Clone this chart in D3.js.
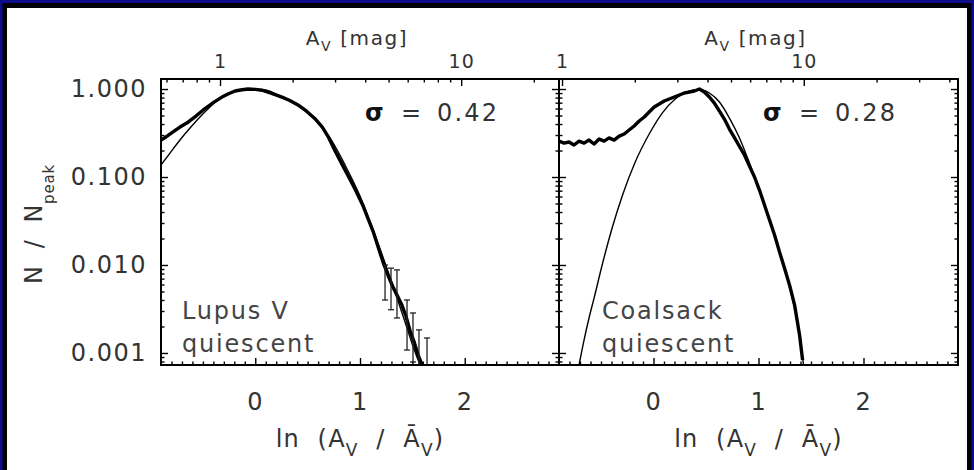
<!DOCTYPE html>
<html>
<head>
<meta charset="utf-8">
<script src="https://cdn.jsdelivr.net/npm/d3@7"></script>
<style>
  html, body { margin: 0; padding: 0; background: #0e0e8c; }
  svg { display: block; }
  text { font-family: 'DejaVu Sans', sans-serif; white-space: pre; }
</style>
</head>
<body>
<svg id="chart" width="974" height="470"></svg>
<script>
// ---- Lupus V (quiescent): column-density PDF, ln(A_V / mean A_V) vs N / N_peak
const lupusLnAv = [-0.900, -0.852, -0.785, -0.719, -0.642, -0.566, -0.480, -0.394, -0.318, -0.250,
  -0.193, -0.126, -0.069, 0.000, 0.064, 0.150, 0.255, 0.330, 0.408, 0.490, 0.570, 0.640, 0.694,
  0.760, 0.838, 0.900, 0.952, 1.029, 1.124, 1.170, 1.220, 1.270, 1.315, 1.360, 1.400, 1.440,
  1.477, 1.520, 1.554, 1.600];
const lupusCounts = [0.263, 0.285, 0.325, 0.370, 0.420, 0.493, 0.600, 0.710, 0.810, 0.889,
  0.950, 0.980, 1.000, 0.990, 0.970, 0.900, 0.810, 0.740, 0.660, 0.560, 0.460, 0.370, 0.290,
  0.200, 0.133, 0.096, 0.073, 0.047, 0.0243, 0.0164, 0.0108, 0.0075, 0.0056, 0.0044, 0.0035, 0.0026,
  0.0018, 0.0013, 0.00095, 0.00070];
// log-normal fit, sigma = 0.42
const lupusFitLnAv = [-0.900, -0.814, -0.719, -0.623, -0.528, -0.432, -0.337, -0.193, -0.050, 0.093,
  0.255, 0.427, 0.570, 0.714, 0.857, 1.000, 1.143, 1.286, 1.430, 1.525, 1.573];
const lupusFit = [0.137, 0.187, 0.263, 0.360, 0.481, 0.624, 0.790, 0.949, 1.000, 0.974,
  0.811, 0.624, 0.456, 0.278, 0.137, 0.0608, 0.0219, 0.0073, 0.00225, 0.00103, 0.00073];
// Poisson error bars in the high-extinction tail
const lupusErrLnAv = [1.239, 1.296, 1.353, 1.449, 1.506, 1.563, 1.640];
const lupusErrMid  = [0.0064, 0.0056, 0.0048, 0.0024, 0.00169, 0.00103, 0.00088];
const lupusErrLow  = [0.0040, 0.0031, 0.0025, 0.00108, 0.00079, 0.0007, 0.0007];
const lupusErrHigh = [0.0100, 0.0092, 0.0088, 0.0040, 0.00285, 0.00183, 0.00148];

// ---- Coalsack (quiescent)
const coalsackLnAv = [-0.900, -0.852, -0.805, -0.757, -0.709, -0.661, -0.614, -0.566, -0.518, -0.470,
  -0.423, -0.375, -0.327, -0.279, -0.232, -0.184, -0.136, -0.088, -0.041, 0.007, 0.055, 0.102,
  0.150, 0.198, 0.246, 0.293, 0.341, 0.389, 0.437, 0.484, 0.532, 0.580, 0.628, 0.675, 0.723,
  0.771, 0.819, 0.866, 0.914, 0.962, 1.009, 1.057, 1.105, 1.153, 1.200, 1.248, 1.296, 1.344,
  1.391, 1.420];
const coalsackCounts = [0.256, 0.243, 0.250, 0.231, 0.256, 0.243, 0.263, 0.237, 0.270, 0.256,
  0.278, 0.263, 0.292, 0.308, 0.342, 0.380, 0.433, 0.481, 0.548, 0.624, 0.675, 0.731,
  0.770, 0.811, 0.855, 0.901, 0.924, 0.949, 1.000, 0.924, 0.811, 0.693, 0.562, 0.456, 0.351,
  0.280, 0.222, 0.178, 0.133, 0.100, 0.0711, 0.0481, 0.0325, 0.0219, 0.0141, 0.0092, 0.0059, 0.0035,
  0.0016, 0.00083];
// log-normal fit, sigma = 0.28
const coalsackFitLnAv = [-0.709, -0.661, -0.614, -0.566, -0.489, -0.394, -0.298, -0.174, -0.041, 0.083,
  0.207, 0.341, 0.437, 0.532, 0.628, 0.723, 0.819, 0.914, 1.009, 1.105, 1.200, 1.296, 1.391, 1.429];
const coalsackFit = [0.00073, 0.00141, 0.0025, 0.0042, 0.0100, 0.0263, 0.0608, 0.148, 0.308, 0.533,
  0.770, 0.949, 0.987, 0.901, 0.711, 0.468, 0.278, 0.144, 0.0711, 0.0325, 0.0141, 0.0056, 0.0016, 0.00073];

// ---- axes
const yTickValues = [1, 0.1, 0.01, 0.001];
const xTickValues = [0, 1, 2];
const avTickValues = [1, 10];
const meanAv = [1.40, 2.39];           // mean A_V [mag] of each region (top axis)
const sigmaLabels = ["0.42", "0.28"];
const regionNames = [["Lupus V", "quiescent"], ["Coalsack", "quiescent"]];

const W = 974, H = 470;
const svg = d3.select("#chart");
const ink = "#000", textInk = "#333";

// framed white sheet on the blue slide
svg.append("rect").attr("x", 2.5).attr("y", 3).attr("width", 969).attr("height", H)
  .attr("fill", "#000");
svg.append("rect").attr("x", 7).attr("y", 8).attr("width", 960).attr("height", H)
  .attr("fill", "#fff");

const plotTop = 79, plotBottom = 365;
const panelX = [[161, 559], [559, 958]];
const nameOffset = [21, 43];
const yScale = d3.scaleLog().domain([0.00073, 1.30]).range([plotBottom, plotTop]);

const yMinor = [];
for (let k = -4; k <= 0; k++) for (let m = 2; m <= 9; m++) {
  const v = m * Math.pow(10, k);
  if (v > 0.00073 && v < 1.3) yMinor.push(v);
}
const xMinor = d3.range(-8, 29).map(i => i / 10).filter(v => Math.abs(v - Math.round(v)) > 1e-6);

const panels = [
  { ln: lupusLnAv, n: lupusCounts, fitLn: lupusFitLnAv, fit: lupusFit,
    err: lupusErrLnAv.map((x, i) => ({ x, mid: lupusErrMid[i], lo: lupusErrLow[i], hi: lupusErrHigh[i] })) },
  { ln: coalsackLnAv, n: coalsackCounts, fitLn: coalsackFitLnAv, fit: coalsackFit, err: [] }
];

function styleAxis(g, fontSize, spacing) {
  g.select(".domain").remove();
  g.selectAll(".tick line").attr("stroke", ink).attr("stroke-width", 1.4);
  g.selectAll(".tick text").attr("fill", textInk).attr("font-size", fontSize)
    .attr("letter-spacing", spacing).attr("font-family", "'DejaVu Sans', sans-serif");
}

panels.forEach((p, i) => {
  const [x0, x1] = panelX[i];
  const x = d3.scaleLinear().domain([-0.9, 2.9]).range([x0, x1]);
  const lnMean = Math.log(meanAv[i]);
  const av = d3.scaleLog().domain([Math.exp(-0.9 + lnMean), Math.exp(2.9 + lnMean)]).range([x0, x1]);
  const [a0, a1] = av.domain();
  const avMinor = [];
  for (let k = -1; k <= 1; k++) for (let m = 2; m <= 9; m++) {
    const v = m * Math.pow(10, k);
    if (v > a0 && v < a1) avMinor.push(v);
  }

  const clipId = "clip" + i;
  svg.append("clipPath").attr("id", clipId).append("rect")
    .attr("x", x0).attr("y", plotTop).attr("width", x1 - x0).attr("height", plotBottom - plotTop);

  // sigma of the fit
  const sig = svg.append("text").attr("y", 121).attr("font-size", 24).attr("fill", textInk);
  sig.append("tspan").attr("x", x0 + 204).attr("font-weight", "bold").attr("fill", "#111").text("σ");
  sig.append("tspan").attr("x", x0 + 240).text("=");
  sig.append("tspan").attr("x", x0 + 276).attr("letter-spacing", 2.2).text(sigmaLabels[i]);

  // region name
  const nm = svg.append("text").attr("font-size", 24).attr("fill", "#444").attr("letter-spacing", 1.8);
  nm.append("tspan").attr("x", x0 + nameOffset[i]).attr("y", 319).text(regionNames[i][0]);
  nm.append("tspan").attr("x", x0 + nameOffset[i]).attr("y", 352).text(regionNames[i][1]);

  const plot = svg.append("g").attr("clip-path", `url(#${clipId})`);

  // log-normal fit (thin)
  plot.append("path")
    .datum(p.fitLn.map((v, j) => [v, p.fit[j]]))
    .attr("fill", "none").attr("stroke", ink).attr("stroke-width", 1.4)
    .attr("d", d3.line().x(d => x(d[0])).y(d => yScale(d[1])).curve(d3.curveMonotoneX));

  // observed PDF (thick)
  plot.append("path")
    .datum(p.ln.map((v, j) => [v, p.n[j]]))
    .attr("fill", "none").attr("stroke", ink).attr("stroke-width", 3.4)
    .attr("stroke-linejoin", "round")
    .attr("d", d3.line().x(d => x(d[0])).y(d => yScale(d[1])));

  // error bars
  const eb = plot.selectAll(".eb").data(p.err).join("g").attr("stroke", "#222").attr("stroke-width", 1.3);
  eb.append("line").attr("x1", d => x(d.x)).attr("x2", d => x(d.x))
    .attr("y1", d => yScale(d.lo)).attr("y2", d => yScale(d.hi));
  eb.append("line").attr("x1", d => x(d.x) - 3).attr("x2", d => x(d.x) + 3)
    .attr("y1", d => yScale(d.hi)).attr("y2", d => yScale(d.hi));
  eb.append("line").attr("x1", d => x(d.x) - 3).attr("x2", d => x(d.x) + 3)
    .attr("y1", d => yScale(d.lo)).attr("y2", d => yScale(d.lo));

  // bottom axis
  svg.append("g").attr("transform", `translate(0,${plotBottom})`)
    .call(d3.axisBottom(x).tickValues(xTickValues).tickFormat(d3.format("d")).tickSize(-7).tickPadding(28))
    .call(g => styleAxis(g, 24, 1.5));
  svg.append("g").attr("transform", `translate(0,${plotBottom})`)
    .call(d3.axisBottom(x).tickValues(xMinor).tickFormat("").tickSize(-3.5))
    .call(g => styleAxis(g, 0, 0));

  // top axis in A_V [mag]
  svg.append("g").attr("transform", `translate(0,${plotTop})`)
    .call(d3.axisTop(av).tickValues(avTickValues).tickFormat(d3.format("d")).tickSize(-7).tickPadding(11))
    .call(g => styleAxis(g, 19, 1));
  svg.append("g").attr("transform", `translate(0,${plotTop})`)
    .call(d3.axisTop(av).tickValues(avMinor).tickFormat("").tickSize(-3.5))
    .call(g => styleAxis(g, 0, 0));

  // left and right axes (ticks inward)
  const left = svg.append("g").attr("transform", `translate(${x0},0)`)
    .call(d3.axisLeft(yScale).tickValues(yTickValues).tickFormat(d3.format(".3f")).tickSize(-7).tickPadding(14))
    .call(g => styleAxis(g, 24, 1.5));
  if (i > 0) left.selectAll(".tick text").remove();
  svg.append("g").attr("transform", `translate(${x0},0)`)
    .call(d3.axisLeft(yScale).tickValues(yMinor).tickFormat("").tickSize(-3.5))
    .call(g => styleAxis(g, 0, 0));
  svg.append("g").attr("transform", `translate(${x1},0)`)
    .call(d3.axisRight(yScale).tickValues(yTickValues).tickFormat("").tickSize(-7))
    .call(g => styleAxis(g, 0, 0));
  svg.append("g").attr("transform", `translate(${x1},0)`)
    .call(d3.axisRight(yScale).tickValues(yMinor).tickFormat("").tickSize(-3.5))
    .call(g => styleAxis(g, 0, 0));

  // frame
  svg.append("rect").attr("x", x0).attr("y", plotTop).attr("width", x1 - x0).attr("height", plotBottom - plotTop)
    .attr("fill", "none").attr("stroke", ink).attr("stroke-width", 2);

  // x title
  const cx = (x0 + x1) / 2;
  const xt = svg.append("text").attr("x", cx).attr("y", 447).attr("text-anchor", "middle")
    .attr("font-size", 24).attr("fill", textInk).attr("letter-spacing", 1.2);
  xt.append("tspan").text("ln  (A");
  xt.append("tspan").attr("font-size", 17).attr("dy", 9).text("V");
  xt.append("tspan").attr("dy", -9).text("  /  Ā");
  xt.append("tspan").attr("font-size", 17).attr("dy", 9).text("V");
  xt.append("tspan").attr("dy", -9).text(")");

  // top title
  const tt = svg.append("text").attr("x", cx - 3).attr("y", 45).attr("text-anchor", "middle")
    .attr("font-size", 20).attr("fill", textInk).attr("letter-spacing", 1.6);
  tt.append("tspan").text("A");
  tt.append("tspan").attr("font-size", 14).attr("dy", 6).text("V");
  tt.append("tspan").attr("dy", -6).text(" [mag]");
});

// y title
const yt = svg.append("text").attr("transform", "translate(42,224) rotate(-90)")
  .attr("text-anchor", "middle").attr("font-size", 24).attr("fill", textInk).attr("letter-spacing", 0.8);
yt.append("tspan").text("N  /  N");
yt.append("tspan").attr("font-size", 15).attr("dy", 12).text("peak");
</script>
</body>
</html>
